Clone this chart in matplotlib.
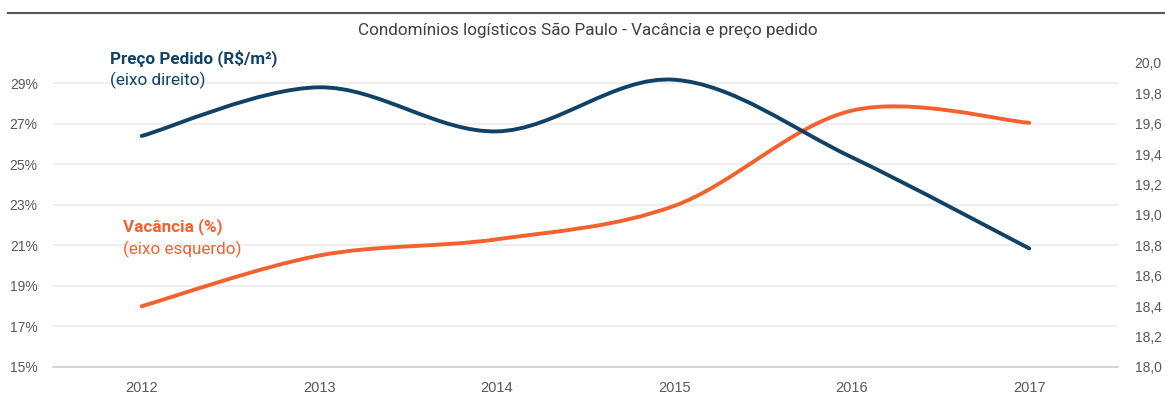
import numpy as np
import matplotlib.pyplot as plt
from matplotlib.path import Path
from matplotlib.patches import PathPatch

# data
anos = ['2012', '2013', '2014', '2015', '2016', '2017']
vacancia = [18.0, 20.5, 21.3, 22.95, 27.65, 27.05]      # % (eixo esquerdo)
preco = [19.52, 19.84, 19.55, 19.89, 19.38, 18.78]       # R$/m2 (eixo direito)

AZUL = '#0f4266'
LARANJA = '#f2622e'
CINZA = '#595959'


def smooth_path(xs, ys):
    """Excel-like smoothed line: cubic Bezier segments through every point."""
    pts = np.column_stack([xs, ys]).astype(float)
    n = len(pts)
    verts = [pts[0]]
    codes = [Path.MOVETO]
    for i in range(n - 1):
        p0 = pts[i - 1] if i > 0 else pts[i]
        p1 = pts[i]
        p2 = pts[i + 1]
        p3 = pts[i + 2] if i + 2 < n else pts[i + 1]
        c1 = p1 + (p2 - p0) / 6.0
        c2 = p2 - (p3 - p1) / 6.0
        verts += [c1, c2, p2]
        codes += [Path.CURVE4] * 3
    return Path(verts, codes)


W, H = 1165, 405
fig = plt.figure(figsize=(W / 100, H / 100), dpi=100)
ax = fig.add_axes([53 / W, 1 - 367 / H, (1118 - 53) / W, (367 - 63) / H])
ax2 = ax.twinx()

x = np.arange(len(anos))

ax.set_xlim(-0.5, len(anos) - 0.5)
ax.set_ylim(15, 30)
ax2.set_ylim(18, 20)

ax.add_patch(PathPatch(smooth_path(x, vacancia), fill=False, edgecolor=LARANJA,
                       lw=2.8, capstyle='round', joinstyle='round', zorder=3))
ax2.add_patch(PathPatch(smooth_path(x, preco), fill=False, edgecolor=AZUL,
                        lw=2.8, capstyle='round', joinstyle='round', zorder=3))

# left axis
ax.set_yticks(np.arange(15, 30, 2))
ax.set_yticklabels(['%d%%' % v for v in range(15, 30, 2)])
ax.grid(axis='y', color='#ececec', lw=1.2)
ax.set_axisbelow(True)
ax.set_xticks(x)
ax.set_xticklabels(anos)

# right axis
ax2.set_yticks(np.round(np.arange(18, 20.01, 0.2), 1))
ax2.set_yticklabels([('%.1f' % v).replace('.', ',') for v in np.arange(18, 20.01, 0.2)])

for a in (ax, ax2):
    for s in a.spines.values():
        s.set_visible(False)
    a.tick_params(length=0, labelsize=10, labelcolor=CINZA)
    for lab in a.get_yticklabels() + a.get_xticklabels():
        lab.set_fontfamily('Liberation Sans')
ax.tick_params(axis='y', pad=11)
ax2.tick_params(axis='y', pad=12)
ax.tick_params(axis='x', pad=10, labelsize=10.5)
ax.spines['bottom'].set_visible(True)
ax.spines['bottom'].set_color('#d0d0d0')
ax.spines['bottom'].set_linewidth(1.2)

# top rule and title
fig.add_artist(plt.Line2D([8 / W, 1], [1 - 12.5 / H] * 2, color='#555555', lw=1.5))
fig.text(588 / W, 1 - 30 / H, 'Condomínios logísticos São Paulo - Vacância e preço pedido',
         ha='center', va='center', fontsize=12.3, color='#404040', family='Roboto')

# series labels
fig.text(110 / W, 1 - 58 / H, 'Preço Pedido (R$/m²)', ha='left', va='center',
         fontsize=12.3, fontweight='bold', color=AZUL, family='Roboto')
fig.text(110 / W, 1 - 80 / H, '(eixo direito)', ha='left', va='center',
         fontsize=12.3, color=AZUL, family='Roboto')
fig.text(123 / W, 1 - 227 / H, 'Vacância (%)', ha='left', va='center',
         fontsize=12.3, fontweight='bold', color=LARANJA, family='Roboto')
fig.text(123 / W, 1 - 249 / H, '(eixo esquerdo)', ha='left', va='center',
         fontsize=12.3, color=LARANJA, family='Roboto')

fig.savefig('out.png', dpi=100)
